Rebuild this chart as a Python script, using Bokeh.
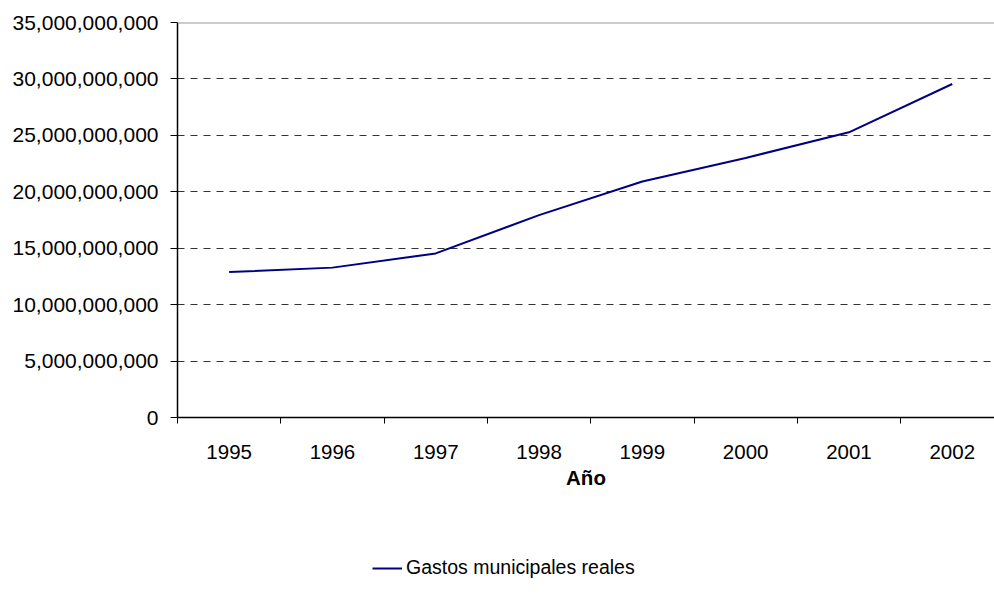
from bokeh.plotting import figure
from bokeh.layouts import column
from bokeh.models import (Range1d, FixedTicker, NumeralTickFormatter, Span, Legend, LegendItem)
from bokeh.embed import file_html
from bokeh.resources import INLINE

# Municipal spending series, one value per year
years = ["1995", "1996", "1997", "1998", "1999", "2000", "2001", "2002"]
gastos = [12.89e9, 13.28e9, 14.54e9, 17.93e9, 20.91e9, 23.0e9, 25.27e9, 29.55e9]
y_ticks = [0, 5e9, 10e9, 15e9, 20e9, 25e9, 30e9, 35e9]
series_name = "Gastos municipales reales"

FONT = "Liberation Sans"
LINE_COLOR = "#000080"

# categories sit in the middle of unit-wide bands
x_pos = [i + 0.5 for i in range(len(years))]

p = figure(width=994, height=520, output_backend="svg", toolbar_location=None,
           x_range=Range1d(0, 7.909), y_range=Range1d(0, 35e9),
           min_border_left=177, min_border_right=0, min_border_top=22,
           min_border_bottom=103)
p.outline_line_color = None
p.background_fill_color = "white"
p.border_fill_color = "white"

p.line(x_pos, gastos, line_color=LINE_COLOR, line_width=2)

# x axis: labels at band centres, tick marks at band edges
p.xaxis.ticker = FixedTicker(ticks=x_pos, minor_ticks=list(range(len(years) + 1)))
p.xaxis.major_label_overrides = {x: y for x, y in zip(x_pos, years)}
p.xaxis.major_tick_out = 0
p.xaxis.major_tick_in = 0
p.xaxis.minor_tick_out = 6
p.xaxis.minor_tick_in = 0
p.xaxis.minor_tick_line_color = "black"
p.xaxis.axis_line_color = "black"
p.xaxis.axis_line_width = 1.5
p.xaxis.major_label_text_font = FONT
p.xaxis.major_label_text_font_size = "20.5px"
p.xaxis.major_label_text_color = "black"
p.xaxis.major_label_standoff = 21
p.xaxis.axis_label = "Año"
p.xaxis.axis_label_text_font = FONT
p.xaxis.axis_label_text_font_size = "20.5px"
p.xaxis.axis_label_text_font_style = "bold"
p.xaxis.axis_label_text_color = "black"
p.xaxis.axis_label_standoff = 4

# y axis
p.yaxis.ticker = FixedTicker(ticks=y_ticks, minor_ticks=[])
p.yaxis.formatter = NumeralTickFormatter(format="0,0")
p.yaxis.major_tick_out = 7
p.yaxis.major_tick_in = 0
p.yaxis.axis_line_color = "black"
p.yaxis.axis_line_width = 1.5
p.yaxis.major_tick_line_color = "black"
p.yaxis.major_label_text_font = FONT
p.yaxis.major_label_text_font_size = "21px"
p.yaxis.major_label_text_color = "black"
p.yaxis.major_label_standoff = 12

p.xgrid.grid_line_color = None
p.ygrid.ticker = FixedTicker(ticks=y_ticks[1:-1])
p.ygrid.grid_line_color = "#333333"
p.ygrid.grid_line_dash = "7 6"
p.ygrid.grid_line_width = 1

# top border of the plotting area
p.add_layout(Span(location=35e9, dimension="width", line_color="#999999", line_width=2))

# legend strip underneath the chart; its series lies outside the strip's ranges,
# so only the legend sample is visible
leg = figure(width=994, height=79, output_backend="svg", toolbar_location=None,
             x_axis_location=None, y_axis_location=None,
             x_range=Range1d(0, 1), y_range=Range1d(0, 1),
             min_border_left=0, min_border_right=0, min_border_top=0, min_border_bottom=0)
leg.outline_line_color = None
leg.grid.grid_line_color = None
sample = leg.line(x_pos, gastos, line_color=LINE_COLOR, line_width=2)
legend = Legend(items=[LegendItem(label=series_name, renderers=[sample])],
                location=(195, 20), orientation="horizontal",
                border_line_color=None, background_fill_alpha=0,
                padding=0, margin=0, glyph_width=30, label_standoff=4,
                label_text_font=FONT, label_text_font_size="19.5px",
                label_text_color="black")
leg.add_layout(legend, "center")

layout = column(p, leg, spacing=0)
open("out.html", "w").write(file_html(layout, INLINE))
